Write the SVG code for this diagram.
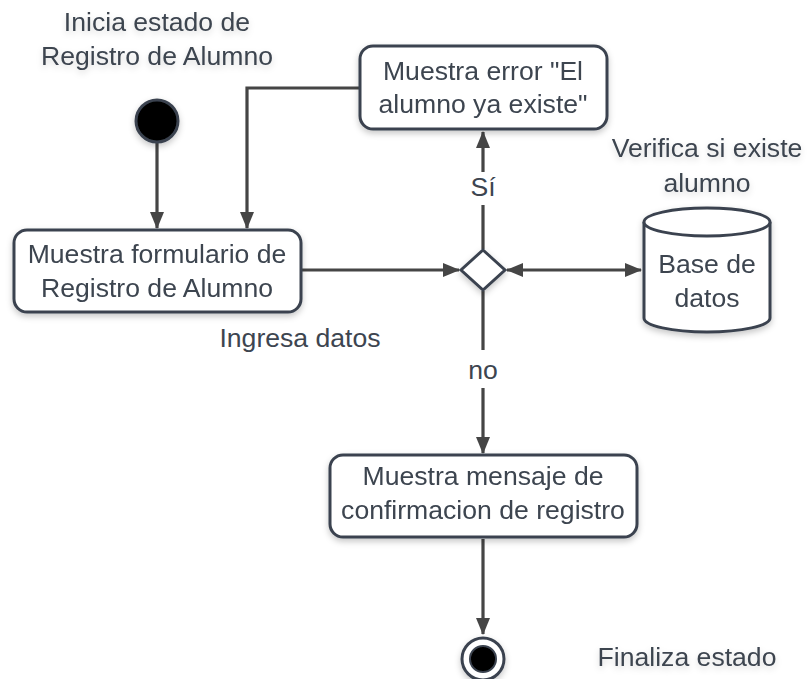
<svg xmlns="http://www.w3.org/2000/svg" width="808" height="679" viewBox="0 0 808 679">
<style>
.t{font-family:"Liberation Sans",Arial,sans-serif;font-size:26.6px;fill:#3d4550;text-anchor:middle}
.n{fill:#fff;stroke:#3a434f;stroke-width:3}
.c{fill:none;stroke:#454545;stroke-width:3.2}
</style>
<defs>
<filter id="sh" x="-20%" y="-20%" width="140%" height="150%">
<feDropShadow dx="0" dy="3" stdDeviation="3" flood-color="#000" flood-opacity="0.22"/>
</filter>
<filter id="ts" x="-10%" y="-30%" width="120%" height="160%">
<feDropShadow dx="0" dy="3" stdDeviation="3" flood-color="#000" flood-opacity="0.15"/>
</filter>
<marker id="a" viewBox="0 0 17 14" refX="16" refY="7" markerWidth="17" markerHeight="14" markerUnits="userSpaceOnUse" orient="auto-start-reverse">
<path d="M0,0 L17,7 L0,14 Z" fill="#454545"/>
</marker>
</defs>
<g id="connectors">
<path class="c" d="M157,143 V228" marker-end="url(#a)"/>
<path class="c" d="M359,88 H247 V228" marker-end="url(#a)"/>
<path class="c" d="M302,270 H459" marker-end="url(#a)"/>
<path class="c" d="M507,270 H641" marker-start="url(#a)" marker-end="url(#a)"/>
<path class="c" d="M483,249 V205 M483,172 V132" marker-end="url(#a)"/>
<path class="c" d="M483,291 V350 M483,388 V453" marker-end="url(#a)"/>
<path class="c" d="M483,539 V634" marker-end="url(#a)"/>
</g>
<g id="label-inicia" filter="url(#ts)">
<text class="t" x="157" y="31">Inicia estado de</text>
<text class="t" x="157" y="65">Registro de Alumno</text>
</g>
<g id="start" filter="url(#sh)">
<circle cx="157" cy="121" r="21" fill="#000" stroke="#3a434f" stroke-width="3"/>
</g>
<g id="formulario" filter="url(#sh)">
<rect class="n" x="14" y="230" width="287" height="82" rx="13"/>
<text class="t" x="157" y="263">Muestra formulario de</text>
<text class="t" x="157" y="297">Registro de Alumno</text>
</g>
<g id="label-ingresa">
<text class="t" x="300" y="347">Ingresa datos</text>
</g>
<g id="error" filter="url(#sh)">
<rect class="n" x="360" y="46" width="247" height="83" rx="13"/>
<text class="t" x="483" y="80">Muestra error "El</text>
<text class="t" x="483" y="113">alumno ya existe"</text>
</g>
<g id="decision" filter="url(#sh)">
<path class="n" d="M483,250 L505,270 L483,290 L461,270 Z"/>
</g>
<g id="label-si">
<text class="t" x="483" y="196">Sí</text>
</g>
<g id="label-no">
<text class="t" x="483" y="379">no</text>
</g>
<g id="label-verifica" filter="url(#ts)">
<text class="t" x="707" y="157">Verifica si existe</text>
<text class="t" x="707" y="192">alumno</text>
</g>
<g id="basedatos" filter="url(#sh)">
<path class="n" d="M644,222 V318 A63,14 0 0 0 770,318 V222 A63,14 0 0 0 644,222 Z"/>
<path class="n" d="M644,222 A63,14 0 0 0 770,222" fill="none"/>
<text class="t" x="707" y="273">Base de</text>
<text class="t" x="707" y="307">datos</text>
</g>
<g id="confirmacion" filter="url(#sh)">
<rect class="n" x="330" y="455" width="307" height="82" rx="13"/>
<text class="t" x="483" y="485">Muestra mensaje de</text>
<text class="t" x="483" y="519">confirmacion de registro</text>
</g>
<g id="end" filter="url(#sh)">
<circle cx="483" cy="659" r="21" fill="#fff" stroke="#3a434f" stroke-width="3"/>
<circle cx="483" cy="659" r="13" fill="#000" stroke="#3a434f" stroke-width="2"/>
</g>
<g id="label-finaliza" filter="url(#ts)">
<text class="t" x="687" y="666">Finaliza estado</text>
</g>
</svg>
